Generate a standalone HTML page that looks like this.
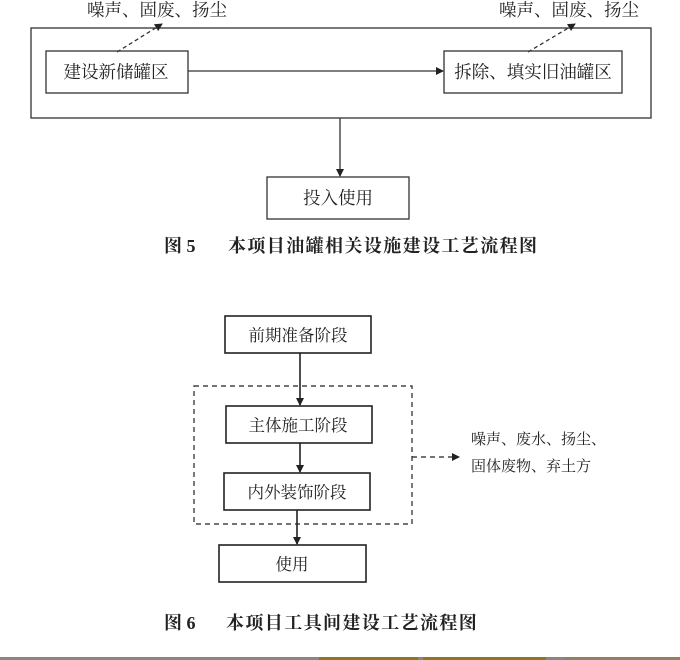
<!DOCTYPE html>
<html><head><meta charset="utf-8"><style>
html,body{margin:0;padding:0;background:#fff;}
svg{display:block}
text{font-family:"Liberation Serif","Noto Serif CJK SC",serif;fill:#222;}
</style></head><body>
<svg width="680" height="660" viewBox="0 0 680 660" xmlns="http://www.w3.org/2000/svg">
<defs>
<marker id="a" markerWidth="8" markerHeight="8" refX="7" refY="4" orient="auto" markerUnits="userSpaceOnUse"><path d="M0,0 L8,4 L0,8 Z" fill="#222"/></marker>
</defs>
<g stroke="#333" fill="none" stroke-width="1.3">
<rect x="31" y="28" width="620" height="90"/>
<rect x="46" y="51" width="142" height="42"/>
<rect x="444" y="51" width="178" height="42"/>
<rect x="267" y="177" width="142" height="42"/>
<line x1="188" y1="71" x2="443" y2="71" marker-end="url(#a)"/>
<line x1="340" y1="118" x2="340" y2="176" marker-end="url(#a)"/>
<line x1="117" y1="52" x2="162" y2="24" stroke-dasharray="4,3" marker-end="url(#a)"/>
<line x1="528" y1="52" x2="575" y2="24" stroke-dasharray="4,3" marker-end="url(#a)"/>
</g>
<g font-size="17.5">
<text x="87" y="16">噪声、固废、扬尘</text>
<text x="499" y="16">噪声、固废、扬尘</text>
<text x="116" y="78" text-anchor="middle">建设新储罐区</text>
<text x="533" y="78" text-anchor="middle">拆除、填实旧油罐区</text>
<text x="338" y="204" text-anchor="middle">投入使用</text>
</g>
<text x="164" y="252" font-size="18" font-weight="bold">图 5</text>
<text x="228" y="252" font-size="18" font-weight="bold" letter-spacing="1.4">本项目油罐相关设施建设工艺流程图</text>

<g stroke="#222" fill="none" stroke-width="1.6">
<rect x="225" y="316" width="146" height="37"/>
<rect x="226" y="406" width="146" height="37"/>
<rect x="224" y="473" width="146" height="37"/>
<rect x="219" y="545" width="147" height="37"/>
<rect x="194" y="386" width="218" height="138" stroke-width="1.2" stroke-dasharray="5,4"/>
<line x1="300" y1="353" x2="300" y2="405" marker-end="url(#a)"/>
<line x1="300" y1="443" x2="300" y2="472" marker-end="url(#a)"/>
<line x1="297" y1="510" x2="297" y2="544" marker-end="url(#a)"/>
<line x1="412" y1="457" x2="459" y2="457" stroke-width="1.2" stroke-dasharray="5,4" marker-end="url(#a)"/>
</g>
<g font-size="16.5">
<text x="298" y="341" text-anchor="middle">前期准备阶段</text>
<text x="298" y="431" text-anchor="middle">主体施工阶段</text>
<text x="297" y="498" text-anchor="middle">内外装饰阶段</text>
<text x="292" y="570" text-anchor="middle">使用</text>
</g>
<g font-size="15">
<text x="471" y="444">噪声、废水、扬尘、</text>
<text x="471" y="471">固体废物、弃土方</text>
</g>
<text x="164" y="629" font-size="18" font-weight="bold">图 6</text>
<text x="226" y="629" font-size="18" font-weight="bold" letter-spacing="1.4">本项目工具间建设工艺流程图</text>

<rect x="0" y="657" width="680" height="3" fill="#8a8580"/>
<rect x="319" y="657" width="99" height="3" fill="#957420"/>
<rect x="423" y="657" width="123" height="3" fill="#957420"/>
<rect x="565" y="657" width="115" height="3" fill="#8f8060"/>
</svg>
</body></html>
